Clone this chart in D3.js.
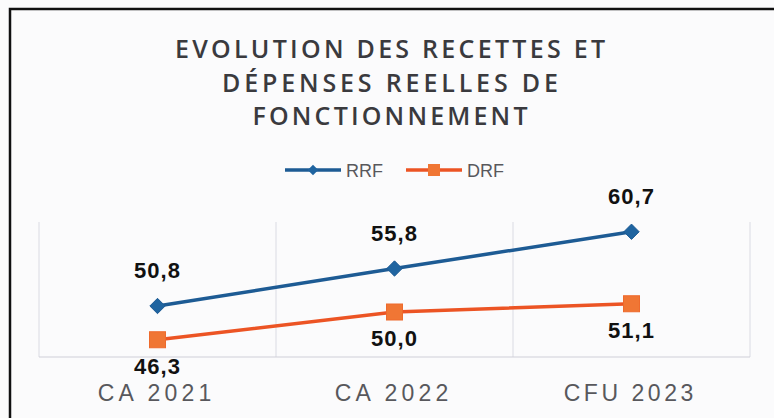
<!DOCTYPE html>
<html>
<head>
<meta charset="utf-8">
<script src="https://cdn.jsdelivr.net/npm/d3@7"></script>
<style>
  html, body { margin: 0; padding: 0; background: #ffffff; }
  svg { display: block; }
</style>
</head>
<body>
<svg id="chart"></svg>
<script>
// data
var categories = ["CA 2021", "CA 2022", "CFU 2023"];
var rrf = [50.8, 55.8, 60.7];
var drf = [46.3, 50.0, 51.1];
var seriesNames = ["RRF", "DRF"];
var titleLines = ["EVOLUTION DES RECETTES ET", "DÉPENSES REELLES DE", "FONCTIONNEMENT"];

var width = 774, height = 418;
var blue = "#1d5b94", redLine = "#ec5424", orangeFill = "#f07634";

var svg = d3.select("#chart")
  .attr("width", width)
  .attr("height", height);

// paper
svg.append("rect")
  .attr("width", width)
  .attr("height", height)
  .attr("fill", "#fbfbfc");

// frame (left and top edges only, the rest is cut off)
svg.append("path")
  .attr("d", "M10," + height + " L10,9 L" + width + ",9")
  .attr("fill", "none")
  .attr("stroke", "#111")
  .attr("stroke-width", 2.5);

// title
var titleWidths = [430, 336, 275];
svg.append("g").selectAll("text")
  .data(titleLines)
  .enter().append("text")
  .attr("x", 390)
  .attr("y", function(d, i) { return 58 + i * 33.5; })
  .attr("text-anchor", "middle")
  .attr("textLength", function(d, i) { return titleWidths[i]; })
  .attr("lengthAdjust", "spacing")
  .style("font-family", "'Open Sans', sans-serif")
  .style("font-weight", 600)
  .style("font-size", "25px")
  .style("fill", "#3a3a3e")
  .text(function(d) { return d; });

var x = d3.scaleBand()
  .domain(categories)
  .range([39, 750])
  .padding(0);

var y = d3.scaleLinear()
  .domain([44, 62])
  .range([357, 222]);

function cx(d, i) { return x(categories[i]) + x.bandwidth() / 2; }

// vertical category separators
var bounds = categories.map(function(c) { return x(c); }).concat([x.range()[1]]);
svg.append("g").selectAll("line")
  .data(bounds)
  .enter().append("line")
  .attr("x1", function(d) { return d; })
  .attr("x2", function(d) { return d; })
  .attr("y1", y.range()[1])
  .attr("y2", y.range()[0])
  .attr("stroke", "#dadbe3")
  .attr("stroke-width", 1);

// bottom axis line
svg.append("line")
  .attr("x1", x.range()[0])
  .attr("x2", x.range()[1])
  .attr("y1", y.range()[0])
  .attr("y2", y.range()[0])
  .attr("stroke", "#cfd0d8")
  .attr("stroke-width", 1.2);

// category labels
svg.append("g").selectAll("text")
  .data(categories)
  .enter().append("text")
  .attr("x", function(d, i) { return cx(d, i) - 3; })
  .attr("y", 401)
  .attr("text-anchor", "middle")
  .attr("textLength", function(d) { return d.length * 16.2; })
  .attr("lengthAdjust", "spacing")
  .style("font-family", "'Liberation Sans', Arial, sans-serif")
  .style("font-size", "23px")
  .style("fill", "#58585c")
  .text(function(d) { return d; });

var line = d3.line()
  .x(cx)
  .y(function(d) { return y(d); });

// DRF series
svg.append("path")
  .datum(drf)
  .attr("d", line)
  .attr("fill", "none")
  .attr("stroke", redLine)
  .attr("stroke-width", 3.5);

svg.append("g").selectAll("rect")
  .data(drf)
  .enter().append("rect")
  .attr("x", function(d, i) { return cx(d, i) - 8; })
  .attr("y", function(d) { return y(d) - 8; })
  .attr("width", 16)
  .attr("height", 16)
  .attr("fill", orangeFill)
  .attr("stroke", "#ee6a2c")
  .attr("stroke-width", 1);

// RRF series
svg.append("path")
  .datum(rrf)
  .attr("d", line)
  .attr("fill", "none")
  .attr("stroke", blue)
  .attr("stroke-width", 3.5);

var diamond = d3.symbol().type(d3.symbolDiamond2).size(150);
svg.append("g").selectAll("path")
  .data(rrf)
  .enter().append("path")
  .attr("d", diamond)
  .attr("transform", function(d, i) { return "translate(" + cx(d, i) + "," + y(d) + ")"; })
  .attr("fill", "#1f64a0")
  .attr("stroke", blue)
  .attr("stroke-width", 1);

var fmt = function(v) { return d3.format(".1f")(v).replace(".", ","); };

// value labels
svg.append("g").selectAll("text")
  .data(rrf)
  .enter().append("text")
  .attr("x", cx)
  .attr("y", function(d) { return y(d) - 28; })
  .attr("text-anchor", "middle")
  .style("font-family", "'Liberation Sans', Arial, sans-serif")
  .style("font-weight", "bold")
  .style("font-size", "22px")
  .style("letter-spacing", "1px")
  .style("fill", "#111")
  .text(fmt);

svg.append("g").selectAll("text")
  .data(drf)
  .enter().append("text")
  .attr("x", cx)
  .attr("y", function(d) { return y(d) + 34; })
  .attr("text-anchor", "middle")
  .style("font-family", "'Liberation Sans', Arial, sans-serif")
  .style("font-weight", "bold")
  .style("font-size", "22px")
  .style("letter-spacing", "1px")
  .style("fill", "#111")
  .text(fmt);

// legend
var legendX = [285, 406];
var legend = svg.append("g").selectAll("g")
  .data(seriesNames)
  .enter().append("g")
  .attr("transform", function(d, i) { return "translate(" + legendX[i] + ",170)"; });

legend.append("line")
  .attr("x1", 0)
  .attr("x2", 56)
  .attr("stroke", function(d, i) { return i === 0 ? blue : redLine; })
  .attr("stroke-width", 3.5);

legend.each(function(d, i) {
  var g = d3.select(this);
  if (i === 0) {
    g.append("path")
      .attr("d", d3.symbol().type(d3.symbolDiamond2).size(70))
      .attr("transform", "translate(28,0)")
      .attr("fill", "#1f64a0");
  } else {
    g.append("rect")
      .attr("x", 22).attr("y", -6)
      .attr("width", 12).attr("height", 12)
      .attr("fill", orangeFill);
  }
});

legend.append("text")
  .attr("x", 61)
  .attr("y", 6.5)
  .style("font-family", "'Liberation Sans', Arial, sans-serif")
  .style("font-size", "18px")
  .style("fill", "#58585c")
  .text(function(d) { return d; });
</script>
</body>
</html>
